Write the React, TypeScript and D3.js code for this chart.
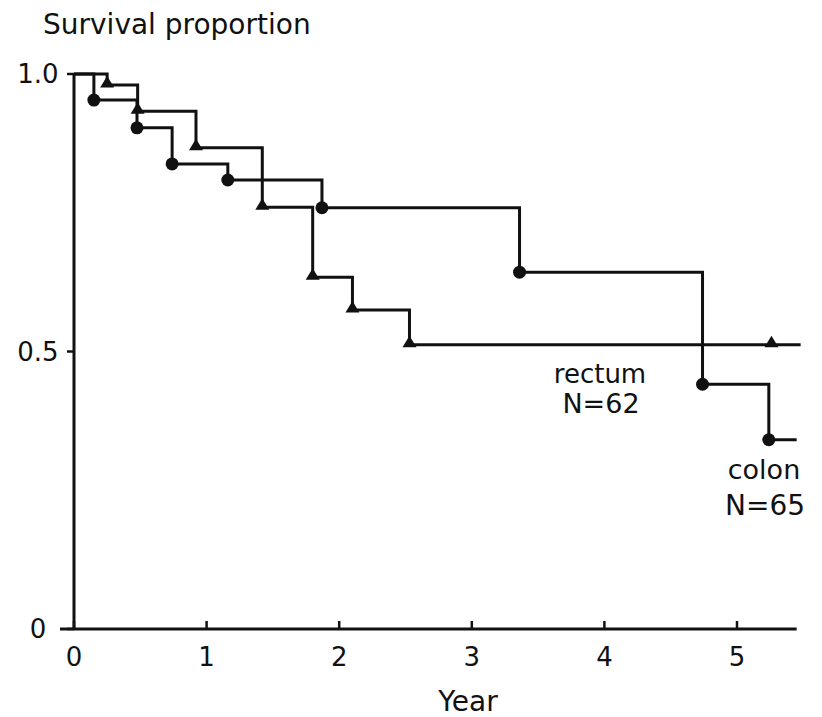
import React from "react";
import * as d3 from "d3";

// Kaplan-Meier step data
const rectumTimes = [0, 0.25, 0.48, 0.92, 1.42, 1.8, 2.1, 2.53];
const rectumSurv = [1, 0.98, 0.933, 0.867, 0.76, 0.634, 0.575, 0.512];
const rectumEnd = 5.48;
const rectumCensor = [5.26];

const colonTimes = [0, 0.15, 0.475, 0.74, 1.16, 1.87, 3.36, 4.74, 5.24];
const colonSurv = [1, 0.953, 0.903, 0.838, 0.809, 0.759, 0.643, 0.441, 0.341];
const colonEnd = 5.45;

const xTicks = [0, 1, 2, 3, 4, 5];
const yTicks = [0, 0.5, 1];
const yTickLabels = ["0", "0.5", "1.0"];

const FONT = "'DejaVu Sans', sans-serif";

export default function App() {
  const W = 822;
  const H = 717;
  const x = d3.scaleLinear().domain([0, 5]).range([74, 737]);
  const y = d3.scaleLinear().domain([0, 1]).range([629, 74]);

  const makePts = (times: number[], surv: number[], end: number) => {
    const pts: [number, number][] = times.map((t, i) => [t, surv[i]]);
    pts.push([end, surv[surv.length - 1]]);
    return pts;
  };
  const line = d3
    .line<[number, number]>()
    .x((d) => x(d[0]))
    .y((d) => y(d[1]))
    .curve(d3.curveStepAfter);

  const rectumPts = makePts(rectumTimes, rectumSurv, rectumEnd);
  const colonPts = makePts(colonTimes, colonSurv, colonEnd);

  const tri = (cx: number, cy: number) =>
    `M${cx - 7},${cy + 2.5} L${cx + 7},${cy + 2.5} L${cx},${cy - 9} Z`;

  const lastRect = rectumSurv[rectumSurv.length - 1];

  return (
    <svg
      width={W}
      height={H}
      style={{ position: "absolute", left: 0, top: 0, background: "#fff" }}
      fontFamily={FONT}
    >
      <rect width={W} height={H} fill="#fff" />
      {/* axes */}
      <line x1={x(0)} x2={x(0)} y1={y(1)} y2={y(0)} stroke="#111" strokeWidth={3} />
      <line x1={x(0) - 14} x2={x(5.45)} y1={y(0)} y2={y(0)} stroke="#111" strokeWidth={3} />
      {yTicks.map((t) => (
        <line key={"yt" + t} x1={x(0) - 7} x2={x(0)} y1={y(t)} y2={y(t)} stroke="#111" strokeWidth={2.5} />
      ))}
      {xTicks.map((t) => (
        <line key={"xt" + t} x1={x(t)} x2={x(t)} y1={y(0) - 8} y2={y(0)} stroke="#111" strokeWidth={2.5} />
      ))}
      {yTicks.map((t, i) => (
        <text key={"yl" + t} x={38} y={y(t) + 9} fontSize={26} textAnchor="middle" fill="#111">
          {yTickLabels[i]}
        </text>
      ))}
      {xTicks.map((t) => (
        <text key={"xl" + t} x={x(t)} y={666} fontSize={26} textAnchor="middle" fill="#111">
          {t}
        </text>
      ))}
      <text x={43} y={34} fontSize={28} fill="#111">
        Survival proportion
      </text>
      <text x={468} y={711} fontSize={28} textAnchor="middle" fill="#111">
        Year
      </text>

      {/* curves */}
      <path d={line(rectumPts) || ""} fill="none" stroke="#111" strokeWidth={3} />
      <path d={line(colonPts) || ""} fill="none" stroke="#111" strokeWidth={3} />

      {rectumTimes.slice(1).map((t, i) => (
        <path key={"rt" + i} d={tri(x(t), y(rectumSurv[i + 1]))} fill="#111" />
      ))}
      {rectumCensor.map((t, i) => (
        <path key={"rc" + i} d={tri(x(t), y(lastRect))} fill="#111" />
      ))}
      {colonTimes.slice(1).map((t, i) => (
        <circle key={"cc" + i} cx={x(t)} cy={y(colonSurv[i + 1])} r={6.5} fill="#111" />
      ))}

      {/* labels */}
      <text x={600} y={383} fontSize={26} textAnchor="middle" fill="#111">rectum</text>
      <text x={601} y={413} fontSize={27} textAnchor="middle" fill="#111">N=62</text>
      <text x={764} y={479} fontSize={27} textAnchor="middle" fill="#111">colon</text>
      <text x={765} y={515} fontSize={28} textAnchor="middle" fill="#111">N=65</text>
    </svg>
  );
}
